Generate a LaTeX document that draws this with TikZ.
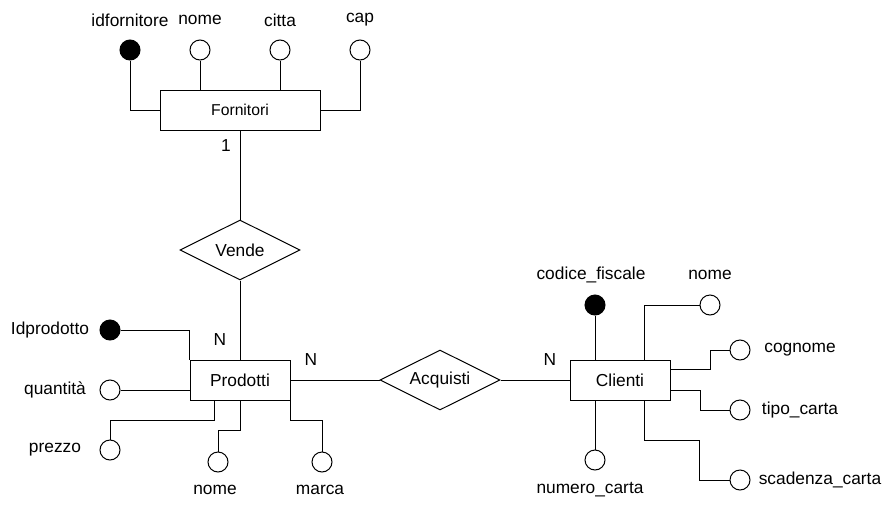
\documentclass[tikz,border=0pt]{standalone}
\usepackage{fontspec}
\setmainfont{Liberation Sans}
\usetikzlibrary{shapes.geometric}
\usetikzlibrary{calc}

\begin{document}
\begin{tikzpicture}[x=0.75pt,y=-0.75pt,line width=0.75pt,
	entity/.style={draw,rectangle,minimum width=75pt,minimum height=30pt,inner sep=0,font=\fontsize{13}{15}\selectfont},
	relation/.style={draw,diamond,aspect=2,minimum width=90pt,minimum height=45pt,inner sep=0,font=\fontsize{13}{15}\selectfont},
	attr/.style={draw,circle,minimum size=15pt,inner sep=0,fill=white},
	key/.style={attr,fill=black},
	lbl/.style={inner sep=0,font=\fontsize{13}{15}\selectfont}]
	
	\useasboundingbox (0,0) rectangle (896,511);
	
	% Fornitori
	\node [entity,minimum width=120pt,font=\fontsize{11.8}{14}\selectfont] (forn) at (240,110) {Fornitori};
	\node [key] (idf) at (130,50) {};
	\node [attr] (nomef) at (200,50) {};
	\node [attr] (citta) at (280,50) {};
	\node [attr] (cap) at (360,50) {};
	\foreach \n/\x/\t in {idf/130/idfornitore, nomef/200/nome, citta/280/citta, cap/360/cap}
		\node [lbl] (l\n) at (\x,20) {\t};
	
	\draw (idf) |- (forn);
	\draw (nomef) -- (nomef |- forn.north);
	\draw (citta) -- (citta |- forn.north);
	\draw (cap) |- (forn);
	
	% Vende
	\node [relation] (vende) at (240,250) {Vende};
	\node [lbl] (uno) at (226,146) {1};
	
	% Prodotti
	\node [entity] (prod) at (240,380) {Prodotti};
	\node [key] (idp) at (110,330) {};
	\node [attr] (qta) at (110,390) {};
	\node [attr] (prz) at (110,450) {};
	\node [attr] (nomep) at (218,462) {};
	\node [attr] (marca) at (322,462) {};
	
	\node [lbl] (lidp) at (50,330) {Idprodotto};
	\node [lbl] (lqta) at (55,390) {quantità};
	\node [lbl] (lprz) at (55,450) {prezzo};
	\node [lbl] (lnomep) at (215,490) {nome};
	\node [lbl] (lmarca) at (320,490) {marca};
	\node [lbl] (n1) at (220,340) {N};
	\node [lbl] (n2) at (311,360) {N};
	
	\draw (idp) -| (prod.north west);
	\draw (qta) -- (qta -| prod.west);
	\draw ($(prod.south west)+(25,0)$) -- ++(0,20) -| (prz);
	\draw (prod.south) -- ++(0,30) -| (nomep);
	\draw (prod.south east) -- ++(0,20) -| (marca);
	
	% Acquisti
	\node [relation] (acq) at (440,380) {Acquisti};
	
	% Clienti
	\node [entity] (cli) at (620,380) {Clienti};
	\node [key] (cf) at (595,305) {};
	\node [attr] (nomec) at (710,305) {};
	\node [attr] (cogn) at (740,350) {};
	\node [attr] (tipo) at (740,410) {};
	\node [attr] (scad) at (740,480) {};
	\node [attr] (num) at (595,460) {};
	
	\node [lbl] (lcf) at (591,275) {codice\_fiscale};
	\node [lbl] (lnomec) at (710,275) {nome};
	\node [lbl] (lcogn) at (800,350) {cognome};
	\node [lbl] (ltipo) at (800,410) {tipo\_carta};
	\node [lbl] (lscad) at (820,480) {scadenza\_carta};
	\node [lbl] (lnum) at (590,490) {numero\_carta};
	\node [lbl] (n3) at (550,360) {N};
	
	\draw (cf) -- (cf |- cli.north);
	\draw (nomec) -| ($(cli.north west)+(75,0)$);
	\draw ($(cli.north east)+(0,10)$) -- ++(40,0) |- (cogn);
	\draw ($(cli.south east)+(0,-10)$) -- ++(30,0) |- (tipo);
	\draw ($(cli.south west)+(75,0)$) -- ++(0,40) -- ++(55,0) |- (scad);
	\draw (num) -- (num |- cli.south);
	
	% Relationships
	\draw (forn) -- (vende) -- (prod);
	\draw (prod) -- (acq) -- (cli);
	
\end{tikzpicture}
\end{document}
